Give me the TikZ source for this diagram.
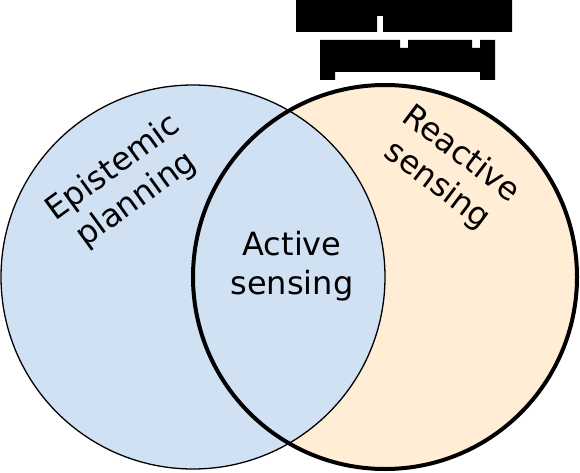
\documentclass[tikz,border=0pt]{standalone}
\usepackage{fontspec}
\setmainfont{DejaVu Sans}
\definecolor{epiblue}{HTML}{D0E1F4}
\definecolor{reactorange}{HTML}{FFEDD5}
\tikzset{
  setlabel/.style={align=center, font=\fontsize{32}{39}\selectfont, inner sep=0pt}
}
\begin{document}
\begin{tikzpicture}[x=1pt,y=-1pt]
        \useasboundingbox (0,0) rectangle (580,473);
        % fills first, outlines after
        \fill[reactorange] (385,277) circle (192);
        \fill[epiblue] (193,277) circle (192);
        \draw[line width=1.3pt] (193,277) circle (192);
        \draw[line width=4pt] (385,277) circle (192);

        % blacked out title
        \fill (296,0) -- (512,0) -- (512,32) -- (383,32) -- (383,16) -- (377,16) -- (377,32) -- (296,32) -- cycle;
        \fill (320,40) -- (400,40) -- (400,48) -- (408,48) -- (408,40) -- (472,40) -- (472,48) -- (480,48) -- (480,40)
              -- (495,40) -- (495,80) -- (480,80) -- (480,72) -- (335,72) -- (335,80) -- (320,80) -- cycle;

        \node[setlabel, rotate=36] (epi) at (125,184) {Epistemic\\planning};
        \node[setlabel, rotate=-37] (react) at (449,170) {Reactive\\sensing};
        \node[setlabel] (active) at (292,266) {Active\\sensing};
    \end{tikzpicture}
\end{document}
